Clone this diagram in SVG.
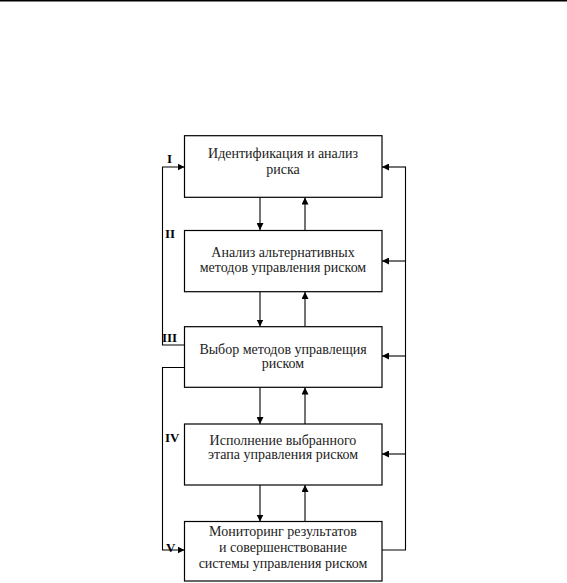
<svg xmlns="http://www.w3.org/2000/svg" width="567" height="583" viewBox="0 0 567 583">
<defs>
<marker id="ah" viewBox="0 0 10 10" refX="10" refY="5" markerWidth="7" markerHeight="7" markerUnits="userSpaceOnUse" orient="auto">
<path d="M0,0 L10,5 L0,10 z" fill="#000"/>
</marker>
<style>
.box{fill:#fff;stroke:#000;stroke-width:1.2}
.t{font-family:"Liberation Serif","Times New Roman",serif;font-size:14px;fill:#222;text-anchor:middle}
.lab{font-family:"Liberation Serif","Times New Roman",serif;font-size:13px;font-weight:bold;fill:#000}
.c{fill:none;stroke:#000;stroke-width:1.1}
.a{fill:none;stroke:#000;stroke-width:1.1;marker-end:url(#ah)}
</style>
</defs>
<rect width="567" height="583" fill="#fff"/>
<line x1="0" y1="0.8" x2="567" y2="0.8" stroke="#000" stroke-width="1.6"/>
<g id="connectors">
<line class="a" x1="260" y1="197.5" x2="260" y2="230"/>
<line class="a" x1="305" y1="230" x2="305" y2="197.5"/>
<line class="a" x1="260" y1="292" x2="260" y2="326.5"/>
<line class="a" x1="305" y1="326.5" x2="305" y2="292"/>
<line class="a" x1="260" y1="387.5" x2="260" y2="424"/>
<line class="a" x1="305" y1="424" x2="305" y2="387.5"/>
<line class="a" x1="260" y1="485" x2="260" y2="521.5"/>
<line class="a" x1="305" y1="521.5" x2="305" y2="485"/>
<polyline class="c" points="382,550 405.5,550 405.5,167"/>
<line class="a" x1="406" y1="167" x2="382" y2="167"/>
<line class="a" x1="406" y1="261" x2="382" y2="261"/>
<line class="a" x1="406" y1="356" x2="382" y2="356"/>
<line class="a" x1="406" y1="454" x2="382" y2="454"/>
<polyline class="a" points="184.5,345 162.5,345 162.5,167 184.5,167"/>
<polyline class="a" points="184.5,367.5 162.5,367.5 162.5,550 184.5,550"/>
</g>
<g id="n1">
<rect class="box" x="184.5" y="135.7" width="197.5" height="61.6"/>
<text class="t" x="283" y="158">Идентификация и анализ</text>
<text class="t" x="283" y="174">риска</text>
<text class="lab" x="167" y="163">I</text>
</g>
<g id="n2">
<rect class="box" x="184.5" y="230.5" width="197.5" height="61.2"/>
<text class="t" x="283" y="257">Анализ альтернативных</text>
<text class="t" x="283" y="272">методов управления риском</text>
<text class="lab" x="165" y="238">II</text>
</g>
<g id="n3">
<rect class="box" x="184.5" y="326.7" width="197.5" height="60.6"/>
<text class="t" x="283" y="353.5">Выбор методов управлещия</text>
<text class="t" x="283" y="368">риском</text>
<text class="lab" x="162" y="342">III</text>
</g>
<g id="n4">
<rect class="box" x="184.5" y="424" width="197.5" height="61"/>
<text class="t" x="283" y="445">Исполнение выбранного</text>
<text class="t" x="283" y="459">этапа управления риском</text>
<text class="lab" x="165" y="442">IV</text>
</g>
<g id="n5">
<rect class="box" x="184.5" y="521.5" width="197.5" height="59.5"/>
<text class="t" x="283" y="535.5">Мониторинг результатов</text>
<text class="t" x="283" y="552">и совершенствование</text>
<text class="t" x="283" y="568">системы управления риском</text>
<text class="lab" x="166" y="552">V</text>
</g>
</svg>
